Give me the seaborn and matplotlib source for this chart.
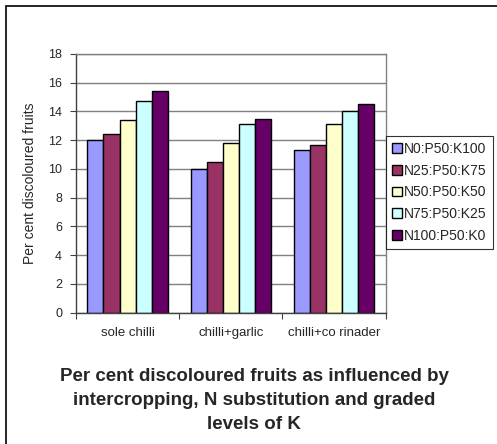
import matplotlib
matplotlib.use("Agg")
import matplotlib.pyplot as plt
import seaborn as sns
import pandas as pd
from matplotlib.patches import Rectangle

categories = ["sole chilli", "chilli+garlic", "chilli+co rinader"]
series = ["N0:P50:K100", "N25:P50:K75", "N50:P50:K50", "N75:P50:K25", "N100:P50:K0"]
values = {
    "N0:P50:K100": [12.0, 10.0, 11.3],
    "N25:P50:K75": [12.4, 10.5, 11.7],
    "N50:P50:K50": [13.4, 11.8, 13.1],
    "N75:P50:K25": [14.7, 13.1, 14.0],
    "N100:P50:K0": [15.4, 13.5, 14.5],
}
colors = ["#9999FF", "#993366", "#FFFFCC", "#CCFFFF", "#660066"]
yticks = [0, 2, 4, 6, 8, 10, 12, 14, 16, 18]

rows = []
for s in series:
    for c, v in zip(categories, values[s]):
        rows.append({"cat": c, "series": s, "val": v})
df = pd.DataFrame(rows)

sns.set_style("white")
plt.rcParams["font.family"] = ["Liberation Sans", "DejaVu Sans"]

fig = plt.figure(figsize=(4.97, 4.44), dpi=100)
ax = fig.add_axes([0.1529, 0.2957, 0.776 - 0.1529, 0.8784 - 0.2957])

sns.barplot(data=df, x="cat", y="val", hue="series", order=categories,
            hue_order=series, palette=colors, width=0.78, ax=ax,
            edgecolor="black", linewidth=1.0, saturation=1, errorbar=None)

ax.set_ylim(0, 18)
ax.set_xlim(-0.5, 2.5)
ax.set_yticks(yticks)
ax.set_yticklabels([str(t) for t in yticks], fontsize=9)
ax.yaxis.grid(True, color="#808080", linewidth=1.0)
ax.set_axisbelow(True)
ax.tick_params(axis="y", direction="out", length=4, width=0.8, color="#404040", pad=6, left=True)

ax.set_xticks([-0.5, 0.5, 1.5, 2.5])
ax.set_xticklabels([])
ax.set_xticks([0, 1, 2], minor=True)
ax.set_xticklabels(categories, minor=True, fontsize=9.5)
ax.tick_params(axis="x", which="major", direction="out", length=4, width=0.8, color="#404040", bottom=True)
ax.tick_params(axis="x", which="minor", length=0, pad=10)

ax.set_xlabel("")
ax.set_ylabel("Per cent discoloured fruits", fontsize=10, labelpad=8)

for side in ["left", "bottom"]:
    ax.spines[side].set_color("#404040")
    ax.spines[side].set_linewidth(1.0)
for side in ["top", "right"]:
    ax.spines[side].set_color("#808080")
    ax.spines[side].set_linewidth(1.0)
    ax.spines[side].set_visible(True)

leg = ax.legend(loc="upper left", bbox_to_anchor=(1.0, 0.684), fontsize=10,
                frameon=True, fancybox=False, edgecolor="black",
                handlelength=0.7, handleheight=0.7, handletextpad=0.15,
                labelspacing=0.55, borderpad=0.45, borderaxespad=0.0)
leg.get_frame().set_linewidth(0.8)

fig.text(0.511, 0.172, "Per cent discoloured fruits as influenced by\nintercropping, N substitution and graded\nlevels of K",
         ha="center", va="top", fontsize=13.5, fontweight="bold", linespacing=1.55)

fig.patches.append(Rectangle((6 / 497, -0.1), 1.2, 1.1 - 6.5 / 444,
                             transform=fig.transFigure, fill=False,
                             edgecolor="black", linewidth=1.2))

fig.savefig("out.png", dpi=100)
